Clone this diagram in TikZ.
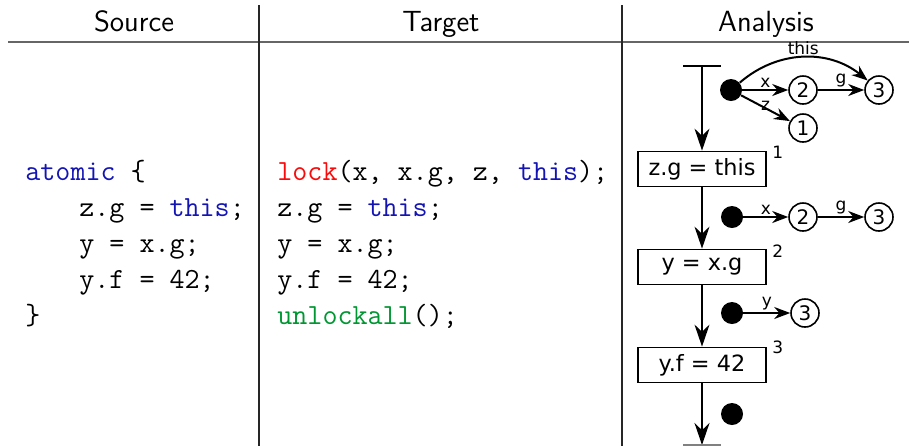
\documentclass[tikz,border=0pt]{standalone}
\usepackage{fontspec}
\newfontfamily\dejavu{DejaVu Sans}
\usepackage{xcolor}
\usepackage{tikz}
\usetikzlibrary{arrows.meta,positioning}

\definecolor{kwblue}{RGB}{20,20,180}
\definecolor{lockred}{RGB}{250,10,10}
\definecolor{unlgreen}{RGB}{0,150,50}

\tikzset{
  hdr/.style={font=\sffamily\fontsize{14.6}{16}\selectfont,anchor=base,inner sep=0pt},
  code/.style={font=\ttfamily\fontsize{14.6}{18}\selectfont,anchor=base west,inner sep=0pt},
  rule/.style={line width=1pt,black!60},
  stmt/.style={draw,line width=0.9pt,minimum width=64pt,minimum height=17.5pt,inner sep=0pt,
    font=\dejavu\fontsize{11.2}{13}\selectfont},
  obj/.style={circle,draw,line width=0.8pt,minimum size=14pt,inner sep=0pt,
    font=\dejavu\fontsize{10}{11}\selectfont},
  root/.style={circle,fill,minimum size=11pt,inner sep=0pt},
  fld/.style={-{Stealth[length=8pt,width=6pt]},line width=1pt},
  flow/.style={-{Stealth[length=11pt,width=7.5pt]},line width=0.8pt},
  lbl/.style={font=\dejavu\fontsize{8.5}{9}\selectfont,inner sep=1pt},
  num/.style={font=\dejavu\fontsize{8.5}{9}\selectfont,anchor=base west,inner sep=0pt},
}

\begin{document}
\begin{tikzpicture}[x=0.5pt,y=-0.5pt]
  \useasboundingbox (0,0) rectangle (909,446);

  % table
  \draw[rule] (8,42) -- (909,42);
  \draw[rule,black!85] (259,5) -- (259,446);
  \draw[rule,black!85] (622,5) -- (622,446);
  \node[hdr] (hsrc) at (134,31) {Source};
  \node[hdr] (htgt) at (441,31) {Target};
  \node[hdr] (hana) at (766,31) {Analysis};

  % source column
  \node[code] (s0) at (25,180) {\textcolor{kwblue}{atomic} \{};
  \node[code] (s1) at (79,216) {z.g = \textcolor{kwblue}{this};};
  \node[code] (s2) at (79,252) {y = x.g;};
  \node[code] (s3) at (79,288) {y.f = 42;};
  \node[code] (s4) at (25,324) {\}};

  % target column
  \node[code] (t0) at (277,180) {\textcolor{lockred}{lock}(x, x.g, z, \textcolor{kwblue}{this});};
  \node[code] (t1) at (277,216) {z.g = \textcolor{kwblue}{this};};
  \node[code] (t2) at (277,252) {y = x.g;};
  \node[code] (t3) at (277,288) {y.f = 42;};
  \node[code] (t4) at (277,324) {\textcolor{unlgreen}{unlockall}();};

  % analysis: statements
  \coordinate (top) at (702,66);
  \coordinate (bot) at (702,445);
  \node[stmt] (st1) at (702,169) {z.g = this};
  \node[stmt] (st2) at (702,267) {y = x.g};
  \node[stmt] (st3) at (702,365) {y.f = 42};
  \node[num] (n1) at (772,158) {1};
  \node[num] (n2) at (772,257) {2};
  \node[num] (n3) at (772,353) {3};
  \draw[line width=0.8pt] (top) ++(-19,0) -- ++(38,0);
  \draw[flow] (top) -- (st1);
  \draw[flow] (st1) -- (st2);
  \draw[flow] (st2) -- (st3);
  \draw[flow] (st3) -- (bot);
  \draw[line width=0.8pt,black!50] (bot) ++(-19,0) -- ++(38,0);

  % heap before 1
  \node[root] (d1) at (731,90) {};
  \node[obj] (a2) at (803,90) {2};
  \node[obj] (a3) at (879,90) {3};
  \node[obj] (a1) at (803,128) {1};
  \draw[fld] (d1) -- node[lbl,above] {x} (a2);
  \draw[fld] (a2) -- node[lbl,above] {g} (a3);
  \draw[fld] (d1) -- node[lbl,above,pos=0.5,yshift=-2.5pt] {z} (a1);
  \draw[fld] (d1) to[bend left=40] node[lbl,above] {this} (a3);

  % heap before 2
  \node[root] (d2) at (732,217) {};
  \node[obj] (b2) at (803,217) {2};
  \node[obj] (b3) at (879,217) {3};
  \draw[fld] (d2) -- node[lbl,above] {x} (b2);
  \draw[fld] (b2) -- node[lbl,above] {g} (b3);

  % heap before 3
  \node[root] (d3) at (732,313) {};
  \node[obj] (c3) at (805,313) {3};
  \draw[fld] (d3) -- node[lbl,above] {y} (c3);

  % heap after 3
  \node[root] (d4) at (732,414) {};
\end{tikzpicture}
\end{document}
